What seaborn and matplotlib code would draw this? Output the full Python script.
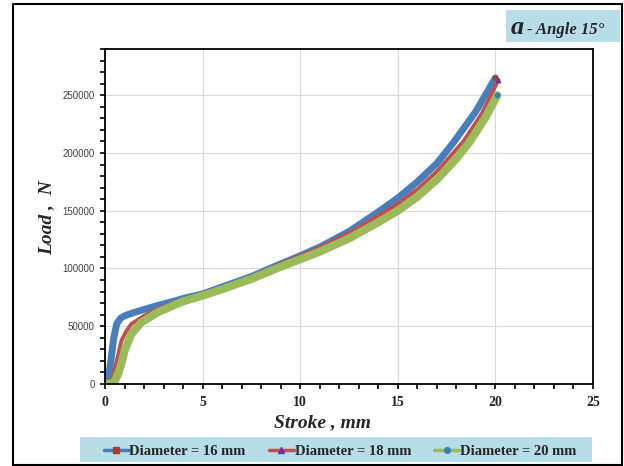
import matplotlib
matplotlib.use("Agg")
import matplotlib.pyplot as plt
from matplotlib.lines import Line2D
from matplotlib.patches import Rectangle
from matplotlib.ticker import MultipleLocator
import seaborn as sns
import pandas as pd

# Load–stroke curves for the 15° die angle
stroke_16 = [0, 0.15, 0.3, 0.45, 0.6, 0.8, 1.0, 1.5, 2, 2.7, 3.5, 4, 5, 6, 7.5, 9,
             10, 11, 12.5, 14, 15, 16, 17, 17.85, 19, 20]
load_16 = [0, 3000, 20000, 40000, 52000, 57000, 59000, 62000, 64500, 68000, 71500,
           74000, 78000, 84000, 93000, 104000, 111000, 118500, 132000, 149000,
           161000, 175000, 191000, 209000, 236000, 265000]

stroke_18 = [0, 0.2, 0.41, 0.6, 0.84, 1.1, 1.35, 2, 2.7, 3.5, 4, 5, 6, 7.5, 9,
             10, 11, 12.5, 14, 15, 16, 17, 18.36, 19.3, 20.15]
load_18 = [0, 1500, 7000, 20000, 37400, 46000, 52000, 59000, 65000, 70000, 73000,
           77500, 83500, 92800, 104000, 111000, 118000, 130500, 145500, 156000,
           168500, 184000, 210000, 234000, 263000]

stroke_20 = [0, 0.3, 0.5, 0.67, 0.85, 1.0, 1.35, 1.86, 2.7, 3.5, 4, 5, 6, 7.5, 9,
             10, 11, 12.5, 14, 15, 16, 17, 18, 18.7, 19.5, 20.1]
load_20 = [0, 500, 2500, 8700, 18000, 28700, 43200, 53300, 62000, 68000, 71500,
           76500, 82000, 91000, 101500, 108000, 114500, 126000, 140000, 150000,
           162000, 177000, 195000, 210000, 231000, 250000]

labels = ["Diameter = 16 mm", "Diameter = 18 mm", "Diameter = 20 mm"]

sns.set_style("white")

fig = plt.figure(figsize=(6.24, 4.66), dpi=100)
ax = fig.add_axes([105 / 624, 82 / 466, 488 / 624, 335 / 466])

series = [
    (stroke_16, load_16, labels[0], "#4a7ebb", 5.0, "s", "#b03a30"),
    (stroke_18, load_18, labels[1], "#c0504d", 2.8, "^", "#7030a0"),
    (stroke_20, load_20, labels[2], "#9bbb59", 5.8, "o", "#2f80b8"),
]

handles = []
for xs, ys, lab, col, lw, mk, mcol in series:
    df = pd.DataFrame({"Stroke": xs, "Load": ys})
    sns.lineplot(data=df, x="Stroke", y="Load", ax=ax, color=col, linewidth=lw,
                 sort=False, estimator=None, solid_joinstyle="round",
                 solid_capstyle="round", marker=mk, markersize=3.5,
                 markerfacecolor=mcol, markeredgecolor=mcol, markevery=[-1],
                 legend=False)
    handles.append(Line2D([0], [0], color=col, linewidth=2.5, marker=mk,
                          markersize=4, markerfacecolor=mcol,
                          markeredgecolor=mcol, label=lab))

ax.set_xlim(0, 25)
ax.set_ylim(0, 290000)
ax.xaxis.set_major_locator(MultipleLocator(5))
ax.xaxis.set_minor_locator(MultipleLocator(1))
ax.yaxis.set_major_locator(MultipleLocator(50000))
ax.yaxis.set_minor_locator(MultipleLocator(10000))
ax.grid(True, which="major", color="#d9d9d9", linewidth=0.8)
ax.set_axisbelow(True)
for s in ax.spines.values():
    s.set_color("black")
    s.set_linewidth(1.3)
ax.tick_params(which="both", direction="out", length=3.5, width=1.2,
               color="black", bottom=True, left=True)
ax.tick_params(axis="y", labelsize=7, labelcolor="#404040", pad=4)
ax.tick_params(axis="x", pad=5)
for t in ax.get_yticklabels():
    t.set_family("Liberation Sans")
for t in ax.get_xticklabels():
    t.set_family("Liberation Serif")
    t.set_fontweight("bold")
    t.set_fontsize(10)

ax.set_xlabel("Stroke , mm", family="Liberation Serif", fontsize=14,
              fontweight="bold", style="italic")
ax.set_ylabel("Load ,  N", family="Liberation Serif", fontsize=14,
              fontweight="bold", style="italic")
ax.xaxis.set_label_coords((322 - 105) / 488, -39 / 335)
ax.xaxis.label.set_va("center")
ax.yaxis.set_label_coords((47 - 105) / 488, (384 - 218) / 335)
ax.yaxis.label.set_va("center")

# Outer frame of the chart
fig.patches.append(Rectangle((13 / 624, 1 / 466), 609 / 624, 461 / 466,
                             transform=fig.transFigure, fill=False,
                             edgecolor="black", linewidth=1.5, zorder=0))

# Caption box at the top right
fig.patches.append(Rectangle((506 / 624, 424 / 466), 114 / 624, 32 / 466,
                             transform=fig.transFigure, facecolor="#b7dde8",
                             edgecolor="none", zorder=1))
fig.text(511 / 624, 438 / 466, "a", family="Liberation Serif", fontsize=19,
         fontweight="bold", style="italic", va="center", ha="left", zorder=2)
fig.text(527 / 624, 436 / 466, "- Angle 15°", family="Liberation Serif",
         fontsize=12, fontweight="bold", style="italic", va="center",
         ha="left", zorder=2)

# Legend strip along the bottom
fig.patches.append(Rectangle((80 / 624, 4 / 466), 512 / 624, 25 / 466,
                             transform=fig.transFigure, facecolor="#b7dde8",
                             edgecolor="none", zorder=1))
leg = fig.legend(handles=handles, loc="center", ncol=3,
                 bbox_to_anchor=(340 / 624, 15 / 466), frameon=False,
                 handlelength=1.7, handletextpad=0.05, columnspacing=1.6,
                 prop={"family": "Liberation Serif", "weight": "bold",
                       "size": 10.5})
leg.set_zorder(3)

fig.savefig("out.png", dpi=100)
